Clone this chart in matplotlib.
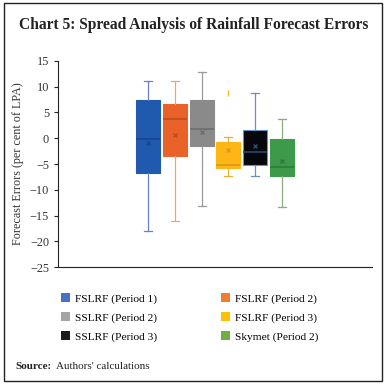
import matplotlib
matplotlib.use("Agg")
import matplotlib.pyplot as plt
from matplotlib.patches import Rectangle

# box statistics (per cent of LPA)
series = ["FSLRF (Period 1)", "FSLRF (Period 2)", "SSLRF (Period 2)",
          "FSLRF (Period 3)", "SSLRF (Period 3)", "Skymet (Period 2)"]
whislo = [-18.0, -16.0, -13.1, -7.3, -7.3, -13.4]
q1 = [-6.7, -3.4, -1.5, -5.7, -5.2, -7.3]
med = [-0.2, 3.7, 1.8, -5.1, -2.6, -5.5]
q3 = [7.4, 6.7, 7.4, -0.7, 1.5, -0.2]
whishi = [11.0, 11.0, 12.9, 0.3, 8.7, 3.8]
means = [-1.0, 0.6, 1.3, -2.3, -1.6, -4.5]
fliers = [[], [], [], [8.7], [], []]

box_colors = ["#1F5AAF", "#E8622A", "#8A8A8A", "#FDB614", "#05070A", "#3C9A4A"]
edge_colors = ["#1F5AAF", "#E8622A", "#8A8A8A", "#FDB614", "#6A8FC0", "#3C9A4A"]
med_colors = ["#17468A", "#B84E22", "#6E6E6E", "#D8991A", "#2A4B70", "#2E7A3A"]
whisk_colors = ["#6B7FC8", "#F0A080", "#9A9A9A", "#E8B030", "#6A8FC0", "#8AAA80"]
legend_colors = ["#4472C4", "#ED7D31", "#A5A5A5", "#FFC000", "#1A1A1A", "#70AD47"]

plt.rcParams['font.family'] = ['Liberation Serif']

fig = plt.figure(figsize=(3.87, 3.85), dpi=100)
fig.patches.append(Rectangle((0.011, 0.01), 0.977, 0.982, transform=fig.transFigure,
                             fill=False, edgecolor="#222222", linewidth=1.0))

fig.text(0.5, 0.935, "Chart 5: Spread Analysis of Rainfall Forecast Errors",
         ha="center", va="center", fontsize=11.2, fontweight="bold",
         color="#222222")

ax = fig.add_axes([0.15, 0.306, 0.811, 0.536])

stats = []
for i in range(len(series)):
    stats.append(dict(whislo=whislo[i], q1=q1[i], med=med[i], q3=q3[i],
                      whishi=whishi[i], mean=means[i], fliers=fliers[i]))

positions = list(range(1, len(series) + 1))
for i, s in enumerate(stats):
    bp = ax.bxp([s], positions=[positions[i]], widths=0.9, patch_artist=True,
                showmeans=True, showfliers=True)
    for b in bp['boxes']:
        b.set_facecolor(box_colors[i])
        b.set_edgecolor(edge_colors[i])
        b.set_linewidth(0.8)
    for m in bp['medians']:
        m.set_color(med_colors[i])
        m.set_linewidth(1.2)
    for w in bp['whiskers'] + bp['caps']:
        w.set_color(whisk_colors[i])
        w.set_linewidth(0.9)
    for c in bp['caps']:
        c.set_xdata([positions[i] - 0.15, positions[i] + 0.15])
    for mn in bp['means']:
        mn.set_marker('x')
        mn.set_markersize(3)
        mn.set_markeredgecolor(med_colors[i])
        mn.set_markerfacecolor(med_colors[i])
    for f in bp['fliers']:
        f.set_marker('|')
        f.set_markersize(4)
        f.set_markeredgecolor(box_colors[i])

ax.set_xlim(-2.36, 9.36)
ax.set_ylim(-25, 15)
ax.set_yticks(range(-25, 16, 5))
ax.set_xticks([])
ax.spines['top'].set_visible(False)
ax.spines['right'].set_visible(False)
ax.spines['left'].set_color("#222222")
ax.spines['bottom'].set_color("#222222")
ax.tick_params(axis='y', labelsize=8.8, length=3, color="#222222", labelcolor="#333333")
ax.set_ylabel("Forecast Errors (per cent of LPA)", fontsize=8.7, color="#333333")

# legend filled row by row, as in the original
order = [0, 2, 4, 1, 3, 5]
handles = [Rectangle((0, 0), 1, 1, facecolor=legend_colors[k], edgecolor="none") for k in order]
labels = [series[k] for k in order]
fig.legend(handles, labels, loc="center", bbox_to_anchor=(0.49, 0.175), ncol=2,
           frameon=False, handlelength=0.8, handleheight=0.8, handletextpad=0.4,
           columnspacing=5.6, labelspacing=0.75,
           prop={"size": 8.2})

fig.text(0.04, 0.047, "Source:", fontsize=8, fontweight="bold",
         color="#222222", va="center")
fig.text(0.145, 0.047, "Authors' calculations", fontsize=8,
         color="#222222", va="center")

fig.savefig("out.png", dpi=100)
